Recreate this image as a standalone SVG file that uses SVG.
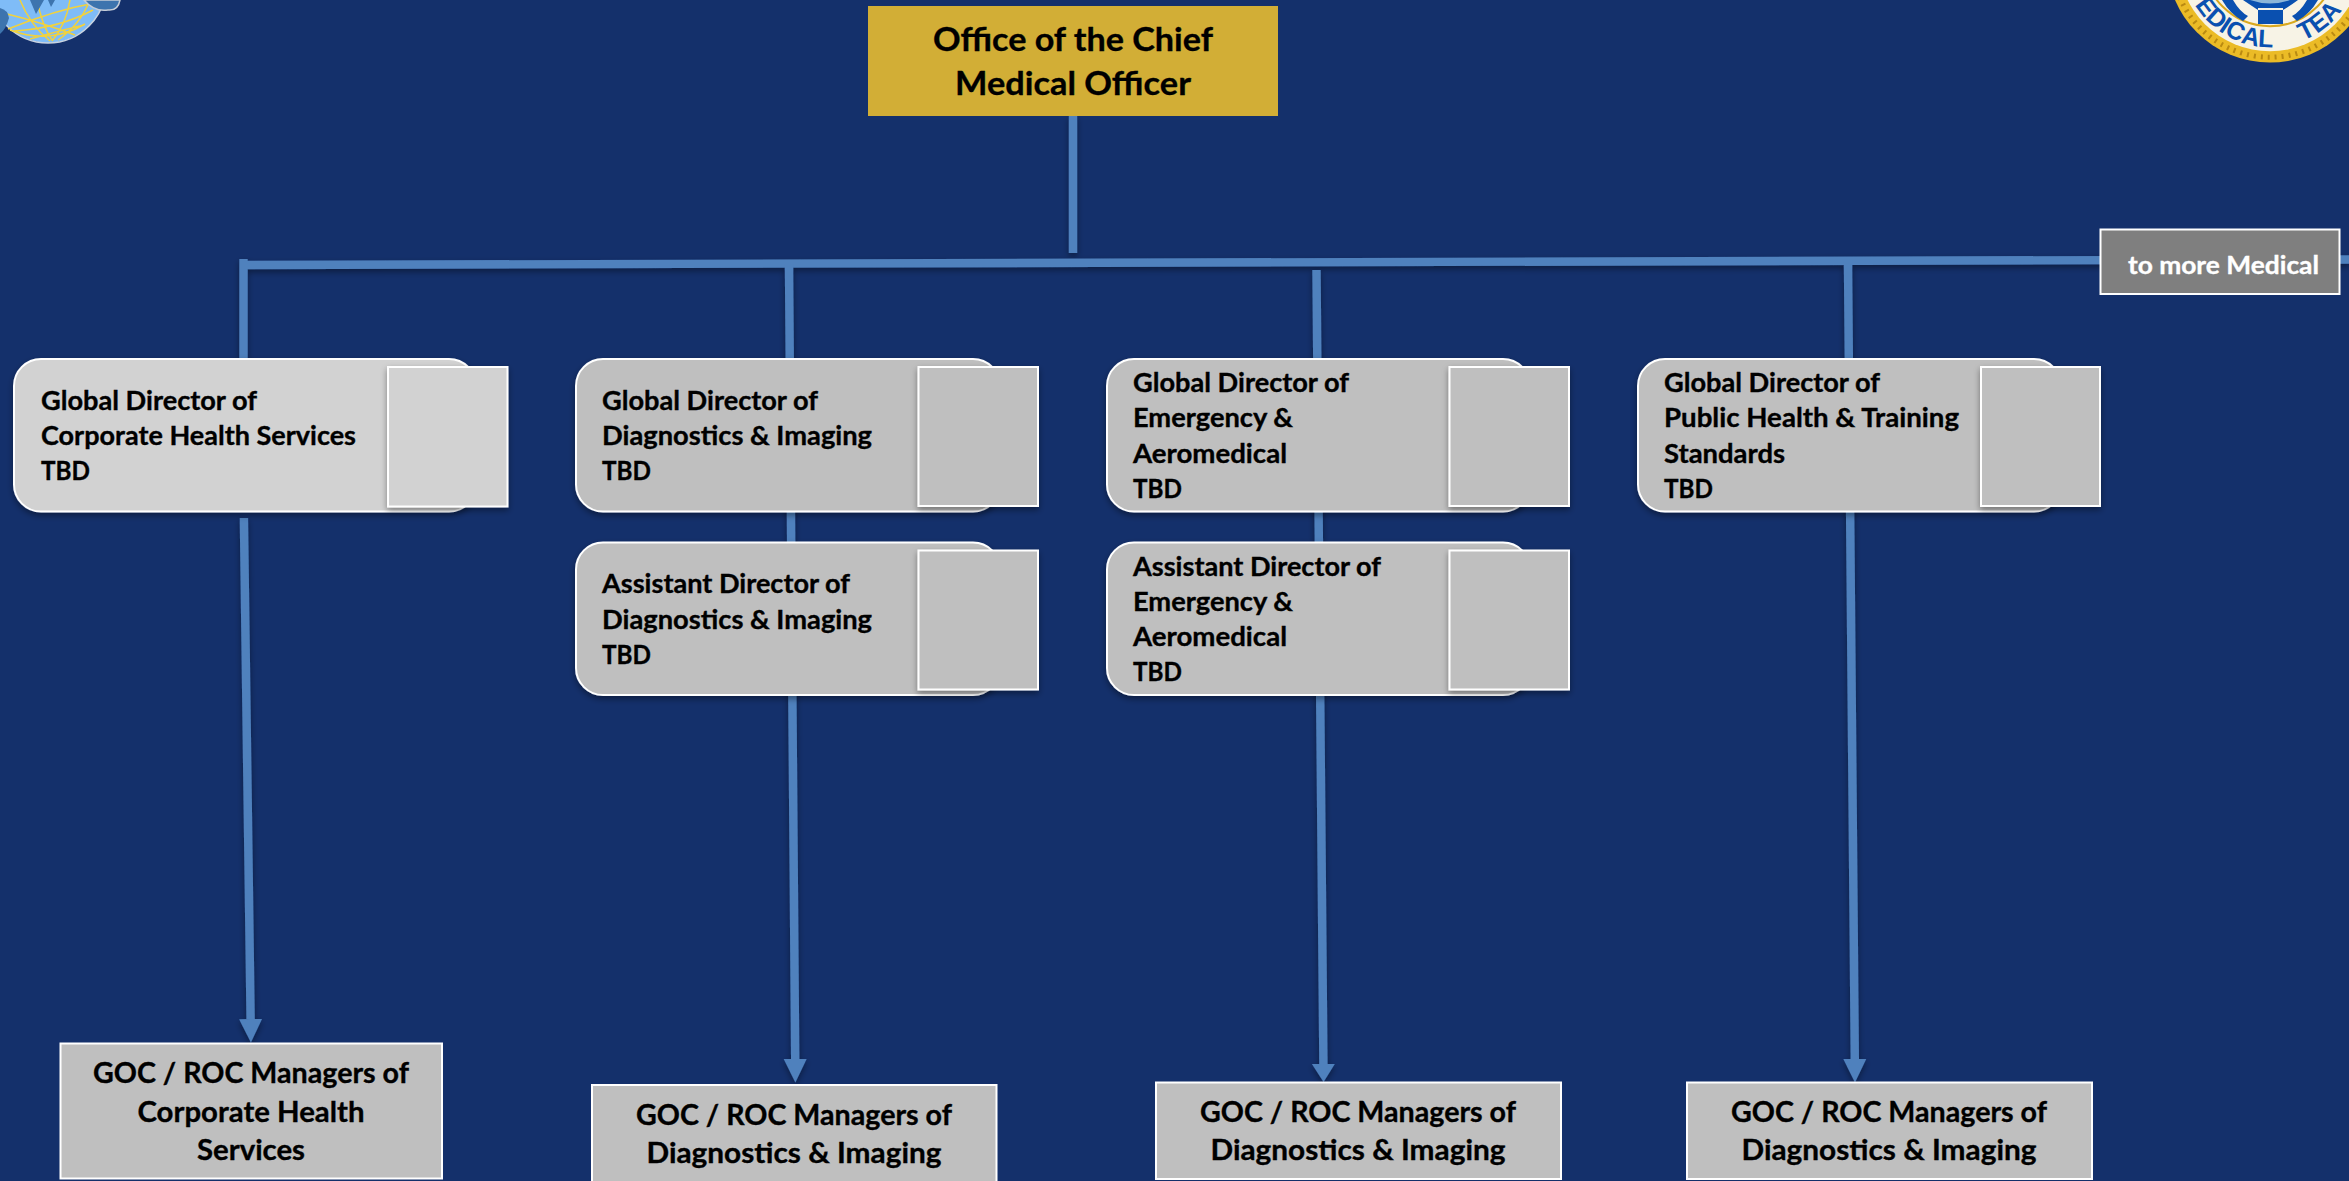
<svg xmlns="http://www.w3.org/2000/svg" width="2349" height="1181" viewBox="0 0 2349 1181">
<style>
text{font-family:Lato,"Liberation Sans",sans-serif;font-weight:700;fill:#000;stroke:#000;stroke-width:.35}
.n{font-size:26.4px}
.m{font-size:29px;text-anchor:middle}
.t{font-size:33px;text-anchor:middle}
.w{font-size:25.5px;fill:#fff;stroke:#fff}
.p{fill:#BFBFBF;stroke:#fff;stroke-width:2;filter:url(#sh)}
.s{fill:#BFBFBF;stroke:#fff;stroke-width:2;filter:url(#sh)}
.l{fill:#D2D2D2}
.b{fill:#BFBFBF;stroke:#fff;stroke-width:2}
.c{fill:none;stroke:#4F81BD;stroke-width:8.4}
.sl{font-family:"Liberation Sans",sans-serif;font-size:25px;fill:#0A50B0;stroke:none}
</style>
<defs>
<filter id="sh" x="-10%" y="-10%" width="120%" height="125%"><feDropShadow dx="0" dy="3" stdDeviation="3" flood-color="#000" flood-opacity=".4"/></filter>
<marker id="ah" markerUnits="userSpaceOnUse" markerWidth="24" markerHeight="24" refX="0" refY="12" orient="auto"><path d="M0 0.5L23.5 12L0 23.5z" fill="#4F81BD"/></marker>
<marker id="ahs" markerUnits="userSpaceOnUse" markerWidth="24" markerHeight="24" refX="0" refY="12" orient="auto"><path d="M0 0.5L18 12L0 23.5z" fill="#4F81BD"/></marker>
<path id="arc" d="M2182 -40.8A88 88 0 0 0 2358 -40.8"/>
</defs>
<rect width="2349" height="1181" fill="#14306B"/>

<g id="logo-left">
<circle cx="48" cy="-15" r="58" fill="#7FBCF7" stroke="#C9D3E0" stroke-width="1.5"/>
<g fill="none" stroke="#F2D23C" stroke-width="1.5">
<path d="M8 29Q55 10 95 3M14 31Q60 28 93 10M30 39Q70 28 84 25M7 14Q40 22 75 35M10 30Q50 45 85 24M37 0Q42 25 52 40M70 0Q66 25 52 41M20 0Q30 25 50 41M90 0Q80 25 58 40"/>
</g>
<path d="M84 0Q94 12 108 10Q118 11 120 0z" fill="#3D74AE" stroke="#C5CDD8" stroke-width="1.5"/>
<path d="M0 8Q8 10 9 18Q6 29 0 34z" fill="#3D74AE"/>
<path d="M30 0L36 14L44 0zM48 0L51 7L55 0z" fill="#3D74AE"/>
</g>

<g id="logo-right">
<circle cx="2270" cy="-40.8" r="103.4" fill="#EBBB26"/>
<circle cx="2270" cy="-40.8" r="98" fill="none" stroke="#B98A12" stroke-width="5" stroke-dasharray="2 5"/>
<circle cx="2270" cy="-40.8" r="92" fill="#F7F3E6"/>
<circle cx="2270" cy="-40.8" r="67" fill="#F7F3E6" stroke="#D9A81E" stroke-width="2"/>
<path d="M2222 0L2233 0Q2240 12 2248 16L2243 21Q2230 14 2222 0zM2318 0L2307 0Q2300 12 2292 16L2297 21Q2310 14 2318 0z" fill="#0A50B0"/>
<path d="M2243 0Q2252 6 2258 10L2283 10Q2290 6 2298 0zM2258 8H2283V24H2258z" fill="#0A50B0"/>
<path d="M2250 0Q2270 7 2290 0z" fill="#8DB6D8"/>
<text class="sl" text-anchor="end"><textPath href="#arc" startOffset="141">EDICAL</textPath></text>
<text class="sl" text-anchor="start"><textPath href="#arc" startOffset="172">TEA</textPath></text>
</g>

<g id="connectors" filter="url(#sh)">
<path class="c" d="M1073 116V253"/>
<path class="c" d="M243 265L2349 259.5"/>
<path class="c" d="M243.5 259V358"/>
<path class="c" d="M243.9 518L250.6 1019" marker-end="url(#ah)"/>
<path class="c" d="M789 264L795.2 1059" marker-end="url(#ah)"/>
<path class="c" d="M1316.5 270L1323.4 1064" marker-end="url(#ahs)"/>
<path class="c" d="M1848 262L1854.8 1059" marker-end="url(#ah)"/>
</g>

<g id="cmo">
<rect x="868" y="6" width="410" height="110" fill="#D2AE36"/>
<text class="t" x="1073" y="51" textLength="280" lengthAdjust="spacingAndGlyphs">Office of the Chief</text>
<text class="t" x="1073" y="95" textLength="236" lengthAdjust="spacingAndGlyphs">Medical Officer</text>
</g>

<g id="more">
<rect x="2100.5" y="229.5" width="239" height="64.5" fill="#7F7F7F" stroke="#fff" stroke-width="2"/>
<text class="w" x="2128" y="274" textLength="191" lengthAdjust="spacingAndGlyphs">to more Medical</text>
</g>

<g id="gd-corporate">
<rect class="p l" x="14" y="359" width="462" height="152.5" rx="27"/>
<rect class="s l" x="388" y="367" width="119.5" height="139.5"/>
<text class="n" x="41" y="409.5" textLength="216" lengthAdjust="spacingAndGlyphs">Global Director of</text>
<text class="n" x="41" y="444.5" textLength="315" lengthAdjust="spacingAndGlyphs">Corporate Health Services</text>
<text class="n" x="41" y="479.5" textLength="49" lengthAdjust="spacingAndGlyphs">TBD</text>
</g>

<g id="gd-diagnostics">
<rect class="p" x="576" y="359" width="424" height="152.5" rx="27"/>
<rect class="s" x="918.5" y="367" width="119.5" height="139"/>
<text class="n" x="602" y="409.5" textLength="216" lengthAdjust="spacingAndGlyphs">Global Director of</text>
<text class="n" x="602" y="445" textLength="270" lengthAdjust="spacingAndGlyphs">Diagnostics &amp; Imaging</text>
<text class="n" x="602" y="480" textLength="49" lengthAdjust="spacingAndGlyphs">TBD</text>
</g>

<g id="ad-diagnostics">
<rect class="p" x="576" y="542.5" width="424" height="152.5" rx="27"/>
<rect class="s" x="918.5" y="550.5" width="119.5" height="139"/>
<text class="n" x="602" y="593" textLength="248" lengthAdjust="spacingAndGlyphs">Assistant Director of</text>
<text class="n" x="602" y="629" textLength="270" lengthAdjust="spacingAndGlyphs">Diagnostics &amp; Imaging</text>
<text class="n" x="602" y="664" textLength="49" lengthAdjust="spacingAndGlyphs">TBD</text>
</g>

<g id="gd-emergency">
<rect class="p" x="1107" y="359" width="423" height="152.5" rx="27"/>
<rect class="s" x="1449.5" y="367" width="119.5" height="139"/>
<text class="n" x="1133" y="392" textLength="216" lengthAdjust="spacingAndGlyphs">Global Director of</text>
<text class="n" x="1133" y="427" textLength="160" lengthAdjust="spacingAndGlyphs">Emergency &amp;</text>
<text class="n" x="1133" y="462.5" textLength="154" lengthAdjust="spacingAndGlyphs">Aeromedical</text>
<text class="n" x="1133" y="497.5" textLength="49" lengthAdjust="spacingAndGlyphs">TBD</text>
</g>

<g id="ad-emergency">
<rect class="p" x="1107" y="542.5" width="423" height="152.5" rx="27"/>
<rect class="s" x="1449.5" y="550.5" width="119.5" height="139"/>
<text class="n" x="1133" y="575.5" textLength="248" lengthAdjust="spacingAndGlyphs">Assistant Director of</text>
<text class="n" x="1133" y="610.5" textLength="160" lengthAdjust="spacingAndGlyphs">Emergency &amp;</text>
<text class="n" x="1133" y="645.5" textLength="154" lengthAdjust="spacingAndGlyphs">Aeromedical</text>
<text class="n" x="1133" y="680.5" textLength="49" lengthAdjust="spacingAndGlyphs">TBD</text>
</g>

<g id="gd-public-health">
<rect class="p" x="1638" y="359" width="423" height="152.5" rx="27"/>
<rect class="s" x="1981" y="367" width="119" height="139"/>
<text class="n" x="1664" y="392" textLength="216" lengthAdjust="spacingAndGlyphs">Global Director of</text>
<text class="n" x="1664" y="427" textLength="295" lengthAdjust="spacingAndGlyphs">Public Health &amp; Training</text>
<text class="n" x="1664" y="462.5" textLength="121" lengthAdjust="spacingAndGlyphs">Standards</text>
<text class="n" x="1664" y="497.5" textLength="49" lengthAdjust="spacingAndGlyphs">TBD</text>
</g>

<g id="mgr-corporate">
<rect class="b" x="60.5" y="1043.5" width="381.5" height="135"/>
<text class="m" x="251" y="1083" textLength="316" lengthAdjust="spacingAndGlyphs">GOC / ROC Managers of</text>
<text class="m" x="251" y="1121.5" textLength="227" lengthAdjust="spacingAndGlyphs">Corporate Health</text>
<text class="m" x="251" y="1160" textLength="108" lengthAdjust="spacingAndGlyphs">Services</text>
</g>

<g id="mgr-diagnostics">
<rect class="b" x="592" y="1085" width="404.5" height="110"/>
<text class="m" x="794" y="1125" textLength="316" lengthAdjust="spacingAndGlyphs">GOC / ROC Managers of</text>
<text class="m" x="794" y="1163" textLength="295" lengthAdjust="spacingAndGlyphs">Diagnostics &amp; Imaging</text>
</g>

<g id="mgr-emergency">
<rect class="b" x="1156" y="1082.5" width="405" height="96.5"/>
<text class="m" x="1358" y="1121.5" textLength="316" lengthAdjust="spacingAndGlyphs">GOC / ROC Managers of</text>
<text class="m" x="1358" y="1160" textLength="295" lengthAdjust="spacingAndGlyphs">Diagnostics &amp; Imaging</text>
</g>

<g id="mgr-public-health">
<rect class="b" x="1687" y="1082.5" width="405" height="96.5"/>
<text class="m" x="1889" y="1121.5" textLength="316" lengthAdjust="spacingAndGlyphs">GOC / ROC Managers of</text>
<text class="m" x="1889" y="1160" textLength="295" lengthAdjust="spacingAndGlyphs">Diagnostics &amp; Imaging</text>
</g>
</svg>
